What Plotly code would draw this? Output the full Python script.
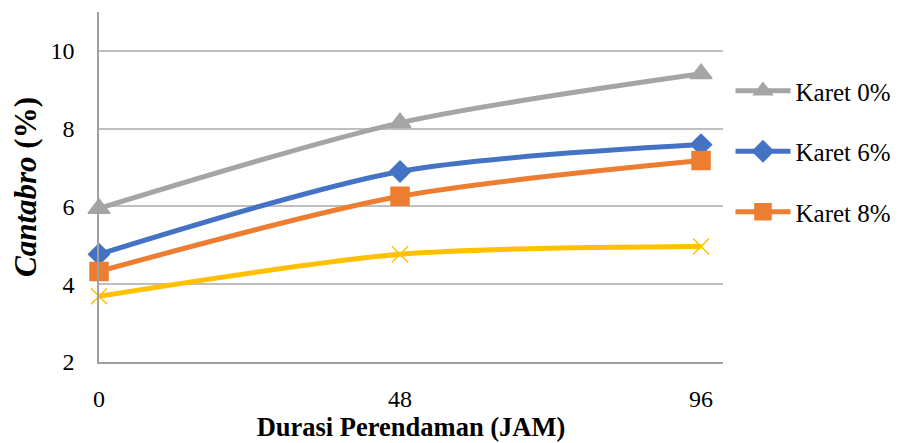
import plotly.graph_objects as go

durasi = [0, 48, 96]
karet_0 = [5.95, 8.15, 9.41]
karet_6 = [4.77, 6.90, 7.59]
karet_8 = [4.33, 6.26, 7.18]
karet_x = [3.69, 4.77, 4.97]
tick_vals = [0, 48, 96]
tick_text = ["0", "48", "96"]

series = [
    ("Karet 0%", karet_0, "#A5A5A5", "triangle-up", 19, True),
    ("Karet 6%", karet_6, "#4472C4", "diamond", 16, True),
    ("Karet 8%", karet_8, "#ED7D31", "square", 18, True),
    ("Karet 10%", karet_x, "#FFC000", "x-thin-open", 16, False),
]

fig = go.Figure()
for i, (name, vals, color, sym, size, show) in enumerate(series):
    fig.add_trace(go.Scatter(
        x=durasi, y=vals, name=name, mode="lines+markers",
        line=dict(color=color, width=5, shape="spline", smoothing=0.8),
        marker=dict(symbol=sym, size=size, color=color,
                    line=dict(color=color, width=1.5)),
        showlegend=show, legendgroup=f"g{i}", cliponaxis=False,
    ))

font = "Liberation Serif"
fig.update_layout(
    width=892, height=435,
    margin=dict(l=91, r=175, t=4, b=81),
    plot_bgcolor="white", paper_bgcolor="white",
    font=dict(family=font, size=24, color="black"),
    legend=dict(x=1.012, xanchor="left", y=0.84, yanchor="top",
                font=dict(size=25, family=font), tracegroupgap=25,
                itemwidth=55, bgcolor="rgba(0,0,0,0)"),
    xaxis=dict(range=[0, 99.5], tickvals=tick_vals, ticktext=tick_text,
               showgrid=False, zeroline=False, showline=True,
               linecolor="#A0A0A0", linewidth=1.5, automargin=False,
               ticks="outside", ticklen=14, tickcolor="rgba(0,0,0,0)",
               tickfont=dict(family=font, size=24),
               title=dict(text="<b>Durasi Perendaman (JAM)</b>",
                          font=dict(family=font, size=26.5), standoff=4)),
    yaxis=dict(range=[2, 11], tickvals=[2, 4, 6, 8, 10], showgrid=True,
               gridcolor="#BFBFBF", gridwidth=1.5, zeroline=False,
               showline=True, linecolor="#A0A0A0", linewidth=1.5, automargin=False,
               ticks="outside", ticklen=18, tickcolor="rgba(0,0,0,0)",
               tickfont=dict(family=font, size=24),
               title=dict(text="<b><i>Cantabro</i> (%)</b>",
                          font=dict(family=font, size=31), standoff=14)),
)

fig.write_html("out.html")
